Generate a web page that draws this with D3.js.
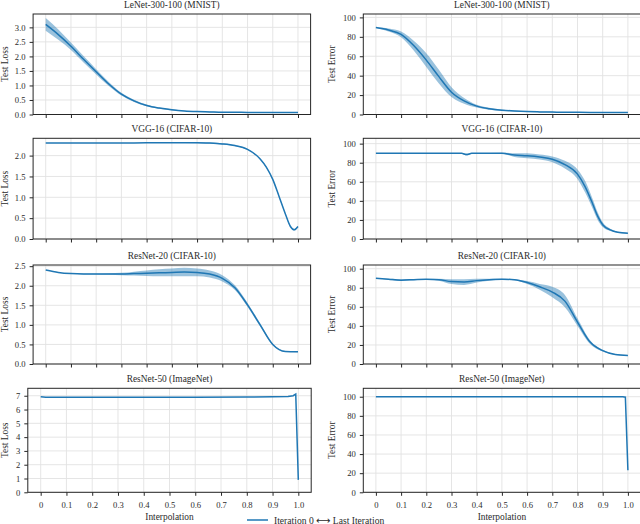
<!DOCTYPE html>
<html>
<head>
<meta charset="utf-8">
<script src="https://cdn.jsdelivr.net/npm/d3@7"></script>
<style>
body { margin: 0; background: #fff; }
svg text { font-family: "Liberation Serif", "DejaVu Serif", serif; fill: #2b2b2b; }
</style>
</head>
<body>
<div id="chart"></div>
<script>
// shared interpolation ticks
var xTicks = [0, 0.1, 0.2, 0.3, 0.4, 0.5, 0.6, 0.7, 0.8, 0.9, 1.0];
var x21 = [0, 0.05, 0.1, 0.15, 0.2, 0.25, 0.3, 0.35, 0.4, 0.45, 0.5, 0.55, 0.6, 0.65, 0.7, 0.75, 0.8, 0.85, 0.9, 0.95, 1.0];

// LeNet-300-100 (MNIST)
var lenetLoss = [3.10, 2.75, 2.35, 1.90, 1.47, 1.05, 0.70, 0.47, 0.31, 0.22, 0.16, 0.12, 0.10, 0.09, 0.08, 0.08, 0.07, 0.07, 0.07, 0.07, 0.07];
var lenetLossSpread = [0.22, 0.18, 0.13, 0.11, 0.09, 0.07, 0.05, 0.04, 0.03, 0.02, 0.02, 0.01, 0.01, 0.01, 0.01, 0.01, 0.01, 0.01, 0.01, 0.01, 0.01];
var lenetErr = [89.5, 87, 82.5, 71, 56, 39, 23, 14, 8.6, 6, 4.5, 3.6, 3, 2.7, 2.5, 2.3, 2.2, 2.1, 2.0, 2.0, 2.0];
var lenetErrSpread = [0.5, 1.5, 3, 5, 7, 7, 5, 3, 1.5, 1, 0.7, 0.5, 0.4, 0.4, 0.4, 0.3, 0.3, 0.3, 0.3, 0.3, 0.3];

// VGG-16 (CIFAR-10)
var vggLossX = [0, 0.1, 0.2, 0.3, 0.4, 0.5, 0.6, 0.65, 0.7, 0.75, 0.8, 0.85, 0.875, 0.9, 0.925, 0.95, 0.97, 0.985, 1.0];
var vggLoss = [2.30, 2.30, 2.30, 2.30, 2.31, 2.31, 2.31, 2.30, 2.28, 2.24, 2.15, 1.92, 1.72, 1.43, 1.02, 0.60, 0.30, 0.22, 0.30];
var vggLossSpread = [0, 0, 0, 0, 0, 0.01, 0.015, 0.015, 0.015, 0.015, 0.01, 0.01, 0.01, 0.01, 0.01, 0.01, 0.01, 0.01, 0.01];
var vggErrX = [0, 0.1, 0.2, 0.3, 0.34, 0.36, 0.38, 0.4, 0.5, 0.55, 0.6, 0.65, 0.7, 0.75, 0.8, 0.83, 0.86, 0.88, 0.9, 0.93, 0.96, 1.0];
var vggErr = [90, 90, 90, 90, 89.8, 88.6, 89.8, 90, 90, 88, 87.3, 86, 83.6, 78, 68, 55, 37, 24, 15, 9.5, 7, 6];
var vggErrSpread = [0, 0, 0, 0, 0.5, 1, 0.5, 0, 0.5, 2, 2.5, 2.5, 3, 4, 5, 6, 5, 4, 2.5, 1.2, 0.6, 0.5];

// ResNet-20 (CIFAR-10)
var res20Loss = [2.40, 2.34, 2.31, 2.30, 2.30, 2.30, 2.30, 2.31, 2.32, 2.33, 2.34, 2.35, 2.34, 2.30, 2.19, 1.95, 1.51, 1.00, 0.50, 0.32, 0.31];
var res20LossSpread = [0, 0, 0, 0.01, 0.01, 0.02, 0.03, 0.05, 0.07, 0.09, 0.1, 0.11, 0.1, 0.09, 0.08, 0.06, 0.05, 0.04, 0.02, 0.01, 0.01];
var res20Err = [90, 89, 88, 88.5, 89, 88.5, 86.5, 86, 87.5, 88.5, 89, 88.5, 85.5, 81, 75.5, 66, 44, 23, 14, 10, 9];
var res20ErrSpread = [0, 0.5, 1, 0.5, 0.3, 1, 2.5, 3, 2, 1, 0.5, 0.5, 1.5, 3, 5.5, 6.5, 4, 2, 1, 0.5, 0.5];

// ResNet-50 (ImageNet)
var res50LossX = [0, 0.02, 0.2, 0.4, 0.6, 0.8, 0.9, 0.96, 0.98, 0.99, 1.0];
var res50Loss = [6.93, 6.90, 6.90, 6.90, 6.90, 6.91, 6.92, 6.94, 7.0, 7.12, 0.9];
var res50ErrX = [0, 0.2, 0.4, 0.6, 0.8, 0.98, 0.99, 1.0];
var res50Err = [100, 100, 100, 100, 100, 100, 99.5, 23];

var blue = "#1f77b4";
var width = 640, height = 524;

var svg = d3.select("#chart").append("svg")
    .attr("width", width)
    .attr("height", height);

function fmtX(d) { return d === 0 ? "0" : d3.format(".1f")(d); }

function Panel(options) {
    var left = options.left, right = options.right,
        top = options.top, bottom = options.bottom,
        xs = options.xs, mean = options.mean, spread = options.spread;

    var x = d3.scaleLinear().domain([-0.05, 1.05]).range([left, right]);
    var y = d3.scaleLinear().domain(options.yDomain).range([bottom, top]);

    var g = svg.append("g").attr("class", "panel");

    // grid
    g.selectAll(".vgrid")
        .data(xTicks)
        .enter().append("line")
        .attr("x1", function (d) { return x(d); })
        .attr("x2", function (d) { return x(d); })
        .attr("y1", top).attr("y2", bottom)
        .style("stroke", "#e2e2e2").style("stroke-width", 0.9);
    g.selectAll(".hgrid")
        .data(options.yTicks)
        .enter().append("line")
        .attr("x1", left).attr("x2", right)
        .attr("y1", function (d) { return y(d); })
        .attr("y2", function (d) { return y(d); })
        .style("stroke", "#e2e2e2").style("stroke-width", 0.9);

    var pts = xs.map(function (d, i) { return i; });

    if (spread) {
        var area = d3.area()
            .x(function (i) { return x(xs[i]); })
            .y0(function (i) { return y(mean[i] - spread[i]); })
            .y1(function (i) { return y(mean[i] + spread[i]); })
            .curve(options.curve);
        g.append("path")
            .attr("d", area(pts))
            .style("fill", blue)
            .style("fill-opacity", 0.45);
    }

    var line = d3.line()
        .x(function (i) { return x(xs[i]); })
        .y(function (i) { return y(mean[i]); })
        .curve(options.curve);
    g.append("path")
        .attr("d", line(pts))
        .style("fill", "none")
        .style("stroke", blue)
        .style("stroke-width", 1.5);

    // frame
    g.append("rect")
        .attr("x", left).attr("y", top)
        .attr("width", right - left).attr("height", bottom - top)
        .style("fill", "none")
        .style("stroke", "#262626")
        .style("stroke-width", 1);

    var yAxis = g.append("g")
        .attr("transform", "translate(" + left + ",0)")
        .call(d3.axisLeft(y).tickValues(options.yTicks).tickFormat(options.yFormat).tickSize(3.5).tickPadding(4));
    var xAxis = g.append("g")
        .attr("transform", "translate(0," + bottom + ")")
        .call(d3.axisBottom(x).tickValues(xTicks)
            .tickFormat(options.showX ? fmtX : function () { return ""; })
            .tickSize(3.5).tickPadding(6.5));

    [yAxis, xAxis].forEach(function (a) {
        a.select(".domain").remove();
        a.selectAll("line").style("stroke", "#262626").style("stroke-width", 1);
        a.selectAll("text").style("font-size", "8.6px").style("fill", "#2b2b2b")
            .style("font-family", "'Liberation Serif', serif");
    });

    g.append("text")
        .attr("x", (left + right) / 2)
        .attr("y", top - 6)
        .attr("text-anchor", "middle")
        .style("font-size", "9.4px")
        .text(options.title);

    g.append("text")
        .attr("transform", "translate(" + options.labelX + "," + (top + bottom) / 2 + ") rotate(-90)")
        .attr("text-anchor", "middle")
        .style("font-size", "9.4px")
        .text(options.ylabel);

    if (options.showX) {
        g.append("text")
            .attr("x", x(0.5))
            .attr("y", 520)
            .attr("text-anchor", "middle")
            .style("font-size", "9.4px")
            .text("Interpolation");
    }
}

var rows = [
    { top: 14, bottom: 114.5 },
    { top: 138.3, bottom: 239 },
    { top: 265, bottom: 364 },
    { top: 388.3, bottom: 492.3 }
];
var smooth = d3.curveMonotoneX;
var f1 = d3.format(".1f"), f0 = d3.format("d");
var lossTicks1 = [0, 0.5, 1, 1.5, 2, 2.5, 3];
var lossTicks2 = [0, 0.5, 1, 1.5, 2];
var lossTicks3 = [0, 0.5, 1, 1.5, 2, 2.5];
var lossTicks4 = [0, 1, 2, 3, 4, 5, 6, 7];
var errTicks = [0, 20, 40, 60, 80, 100];

var L = { left: 33.1, right: 310.6, labelX: 8 };
var R = { left: 363.3, right: 640.5, labelX: 335 };

Panel({ left: L.left, right: L.right, labelX: L.labelX, top: rows[0].top, bottom: rows[0].bottom,
    yDomain: [0, 3.46], yTicks: lossTicks1, yFormat: f1, title: "LeNet-300-100 (MNIST)", ylabel: "Test Loss",
    xs: x21, mean: lenetLoss, spread: lenetLossSpread, curve: smooth, showX: false });
Panel({ left: R.left, right: R.right, labelX: R.labelX, top: rows[0].top, bottom: rows[0].bottom,
    yDomain: [0, 103.5], yTicks: errTicks, yFormat: f0, title: "LeNet-300-100 (MNIST)", ylabel: "Test Error",
    xs: x21, mean: lenetErr, spread: lenetErrSpread, curve: smooth, showX: false });

Panel({ left: L.left, right: L.right, labelX: L.labelX, top: rows[1].top, bottom: rows[1].bottom,
    yDomain: [0, 2.415], yTicks: lossTicks2, yFormat: f1, title: "VGG-16 (CIFAR-10)", ylabel: "Test Loss",
    xs: vggLossX, mean: vggLoss, spread: vggLossSpread, curve: smooth, showX: false });
Panel({ left: R.left, right: R.right, labelX: R.labelX, top: rows[1].top, bottom: rows[1].bottom,
    yDomain: [0, 105.6], yTicks: errTicks, yFormat: f0, title: "VGG-16 (CIFAR-10)", ylabel: "Test Error",
    xs: vggErrX, mean: vggErr, spread: vggErrSpread, curve: smooth, showX: false });

Panel({ left: L.left, right: L.right, labelX: L.labelX, top: rows[2].top, bottom: rows[2].bottom,
    yDomain: [0, 2.53], yTicks: lossTicks3, yFormat: f1, title: "ResNet-20 (CIFAR-10)", ylabel: "Test Loss",
    xs: x21, mean: res20Loss, spread: res20LossSpread, curve: smooth, showX: false });
Panel({ left: R.left, right: R.right, labelX: R.labelX, top: rows[2].top, bottom: rows[2].bottom,
    yDomain: [0, 103.9], yTicks: errTicks, yFormat: f0, title: "ResNet-20 (CIFAR-10)", ylabel: "Test Error",
    xs: x21, mean: res20Err, spread: res20ErrSpread, curve: smooth, showX: false });

Panel({ left: 27.8, right: 311.2, labelX: L.labelX, top: rows[3].top, bottom: rows[3].bottom,
    yDomain: [0, 7.54], yTicks: lossTicks4, yFormat: f0, title: "ResNet-50 (ImageNet)", ylabel: "Test Loss",
    xs: res50LossX, mean: res50Loss, spread: null, curve: d3.curveLinear, showX: true });
Panel({ left: R.left, right: R.right, labelX: R.labelX, top: rows[3].top, bottom: rows[3].bottom,
    yDomain: [0, 108.8], yTicks: errTicks, yFormat: f0, title: "ResNet-50 (ImageNet)", ylabel: "Test Error",
    xs: res50ErrX, mean: res50Err, spread: null, curve: d3.curveLinear, showX: true });

// legend
var legend = svg.append("g").attr("class", "legend");
legend.append("line")
    .attr("x1", 247).attr("x2", 268)
    .attr("y1", 520).attr("y2", 520)
    .style("stroke", blue)
    .style("stroke-width", 1.5);
var legendText = legend.append("text")
    .attr("x", 274)
    .attr("y", 523.5)
    .style("font-size", "9.6px");
legendText.append("tspan").text("Iteration 0 ");
legendText.append("tspan").style("font-family", "'DejaVu Sans', sans-serif").style("font-size", "10px").text("\u27F7");
legendText.append("tspan").text(" Last Iteration");
</script>
</body>
</html>
